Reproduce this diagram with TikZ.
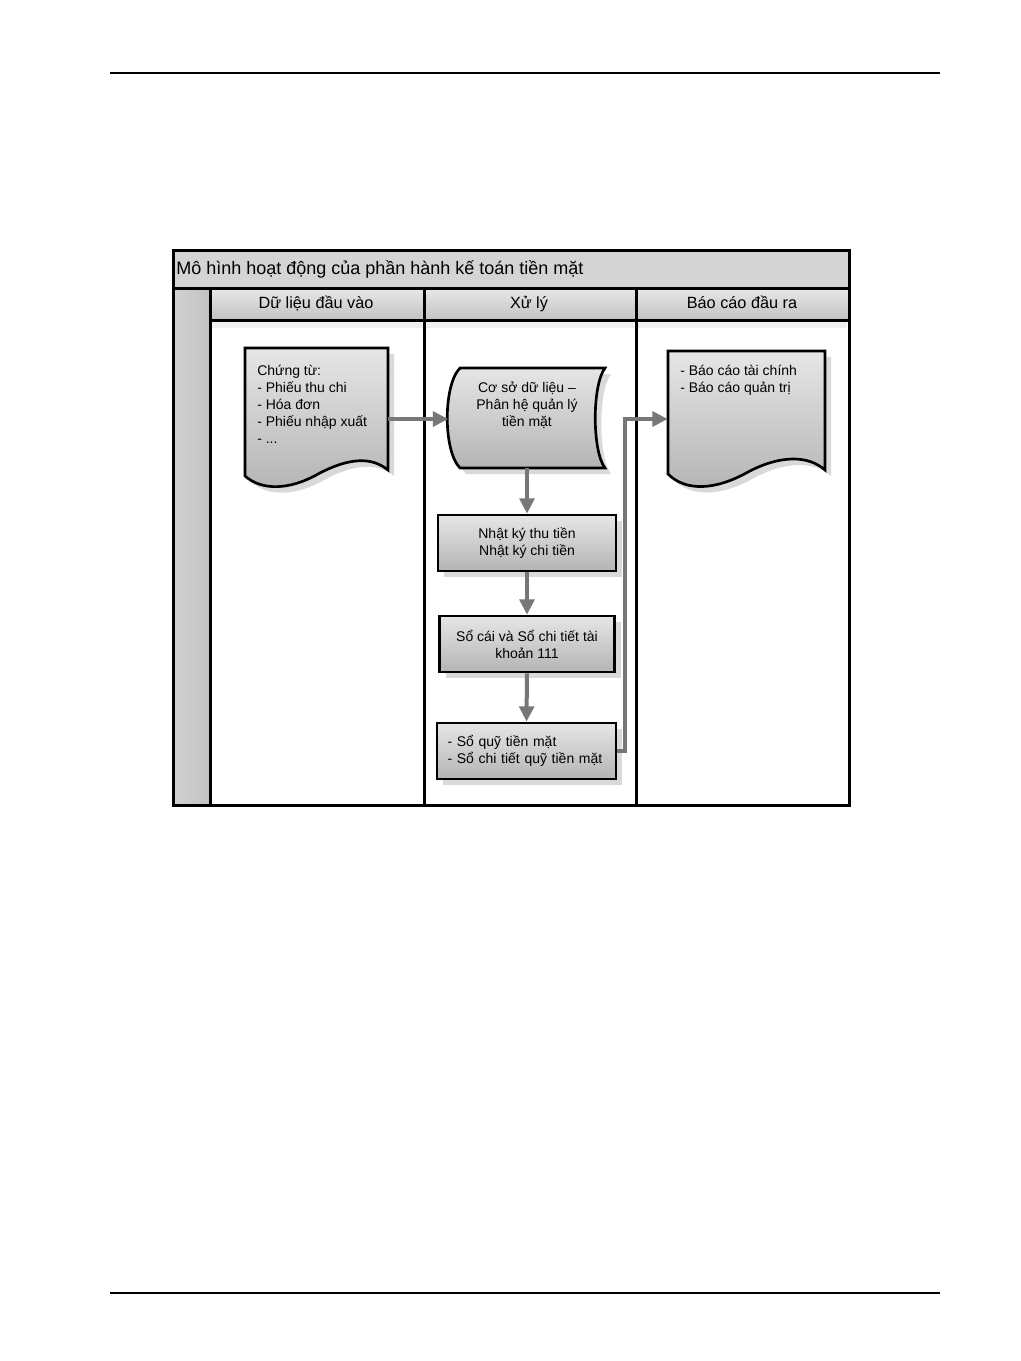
\documentclass[tikz,border=0pt]{standalone}
\usepackage{fontspec}
\setmainfont{Liberation Sans}
\usetikzlibrary{arrows.meta,shadows}
\definecolor{conn}{HTML}{777777}
\definecolor{shd}{HTML}{D9D9D9}
\definecolor{fillTop}{HTML}{E6E6E6}
\definecolor{fillBot}{HTML}{B4B4B4}
\definecolor{hdrTop}{HTML}{E8E8E8}
\definecolor{hdrBot}{HTML}{C2C2C2}
\definecolor{titleFill}{HTML}{D4D4D4}
\definecolor{stripL}{HTML}{D2D2D2}
\definecolor{stripR}{HTML}{C2C2C2}
\newcommand{\bodyf}{\fontsize{10.5}{12.75}\selectfont}
\newcommand{\titlef}{\fontsize{13.5}{16}\selectfont}
\newcommand{\hdrf}{\fontsize{12.2}{14}\selectfont}
\def\u{0.75pt}
\tikzset{
  frame/.style={draw=black, line width=2.25pt},
  shapefill/.style={draw=black, line width=2pt, top color=fillTop, bottom color=fillBot,
    drop shadow={shadow xshift=4.5pt, shadow yshift=-4.5pt, fill=shd, opacity=1}},
  procbox/.style={shapefill, rectangle, inner sep=0pt, align=center, font=\bodyf},
  ghost/.style={rectangle, inner sep=0pt, draw=none, fill=none},
  txt/.style={inner sep=0pt, font=\bodyf},
  hdr/.style={inner sep=0pt, font=\hdrf, anchor=base},
  conn/.style={draw=conn, line width=3pt, -{Triangle[length=11.5pt, width=11pt]}},
}
\begin{document}
\begin{tikzpicture}[x=0.75pt, y=-0.75pt]
\useasboundingbox (0,0) rectangle (1021,1361);
\fill[white] (0,0) rectangle (1021,1361);

% page rules
\draw[line width=0.9pt] (110,73) -- (940,73);
\draw[line width=0.9pt] (110,1293) -- (940,1293);

% title bar
\path[fill=titleFill] (173,250) rectangle (849,288);
\node[anchor=west, inner sep=0pt, font=\titlef] (title) at (176,269) {Mô hình hoạt động của phần hành kế toán tiền mặt};

% left strip
\path[left color=stripL, right color=stripR] (173,288) rectangle (210,805);

% header shadows
\fill[gray!12] (212,321) rectangle (422,328);
\fill[gray!12] (426,321) rectangle (634,328);
\fill[gray!12] (638,321) rectangle (847,328);

% lane headers
\path[top color=hdrTop, bottom color=hdrBot] (210,288) rectangle (424,320);
\path[top color=hdrTop, bottom color=hdrBot] (424,288) rectangle (636,320);
\path[top color=hdrTop, bottom color=hdrBot] (636,288) rectangle (849,320);
\node[hdr] (h1) at (316,308.5) {Dữ liệu đầu vào};
\node[hdr] (h2) at (529,308.5) {Xử lý};
\node[hdr] (h3) at (742,308.5) {Báo cáo đầu ra};

% frame lines
\draw[frame] (173,250) rectangle (849,805);
\draw[frame] (173,288) -- (849,288);
\draw[frame] (210,288) -- (210,805);
\draw[frame] (424,288) -- (424,805);
\draw[frame] (636,288) -- (636,805);
\draw[frame] (210,320) -- (849,320);

% document 1
\path[shapefill] (245,348) -- (388,348) -- (388,470)
  .. controls (372,457) and (350,457) .. (318,474)
  .. controls (290,490) and (262,491) .. (245,476) -- cycle;
\node[ghost, minimum width=143*\u, minimum height=122*\u] (doc1) at (316.5,419) {};
\node[txt, anchor=west, align=left] (doc1t) at (257,404) {Chứng từ:\\- Phiếu thu chi\\- Hóa đơn\\- Phiếu nhập xuất\\- ...};

% stored data
\path[shapefill] (460,368) -- (605,368)
  .. controls (592,385) and (592,451) .. (605,468) -- (460,468)
  .. controls (443,451) and (443,385) .. (460,368) -- cycle;
\node[ghost, minimum width=157*\u, minimum height=100*\u] (db) at (527,418) {};
\node[txt, align=center] (dbt) at (527,405) {Cơ sở dữ liệu –\\Phân hệ quản lý\\tiền mặt};

% document 2
\path[shapefill] (668,351) -- (825,351) -- (825,470)
  .. controls (808,455) and (780,455) .. (748,472)
  .. controls (716,490) and (686,492) .. (668,474) -- cycle;
\node[ghost, minimum width=157*\u, minimum height=136*\u] (doc2) at (746.5,419) {};
\node[txt, anchor=west, align=left] (doc2t) at (680,380) {- Báo cáo tài chính\\- Báo cáo quản trị};

% process boxes
\node[procbox, minimum width=178*\u, minimum height=56*\u] (b1) at (527,543) {Nhật ký thu tiền\\Nhật ký chi tiền};
\node[procbox, minimum width=175*\u, minimum height=56*\u] (b2) at (527,644) {Sổ cái và Sổ chi tiết tài\\khoản 111};
\node[procbox, minimum width=179*\u, minimum height=56*\u, align=left, text width=158*\u] (b3) at (526.5,751) {- Sổ quỹ tiền mặt\\- Sổ chi tiết quỹ tiền mặt};

% connectors
\draw[conn] (doc1.east) -- (doc1.east -| db.west);
\draw[conn] (db.south) -- (db.south |- b1.north);
\draw[conn] (b1.south) -- (b2.north);
\draw[conn] (b2.south) -- (b3.north);
\draw[conn] (b3.east) -- ++(8,0) |- (doc2.west);
\end{tikzpicture}
\end{document}
